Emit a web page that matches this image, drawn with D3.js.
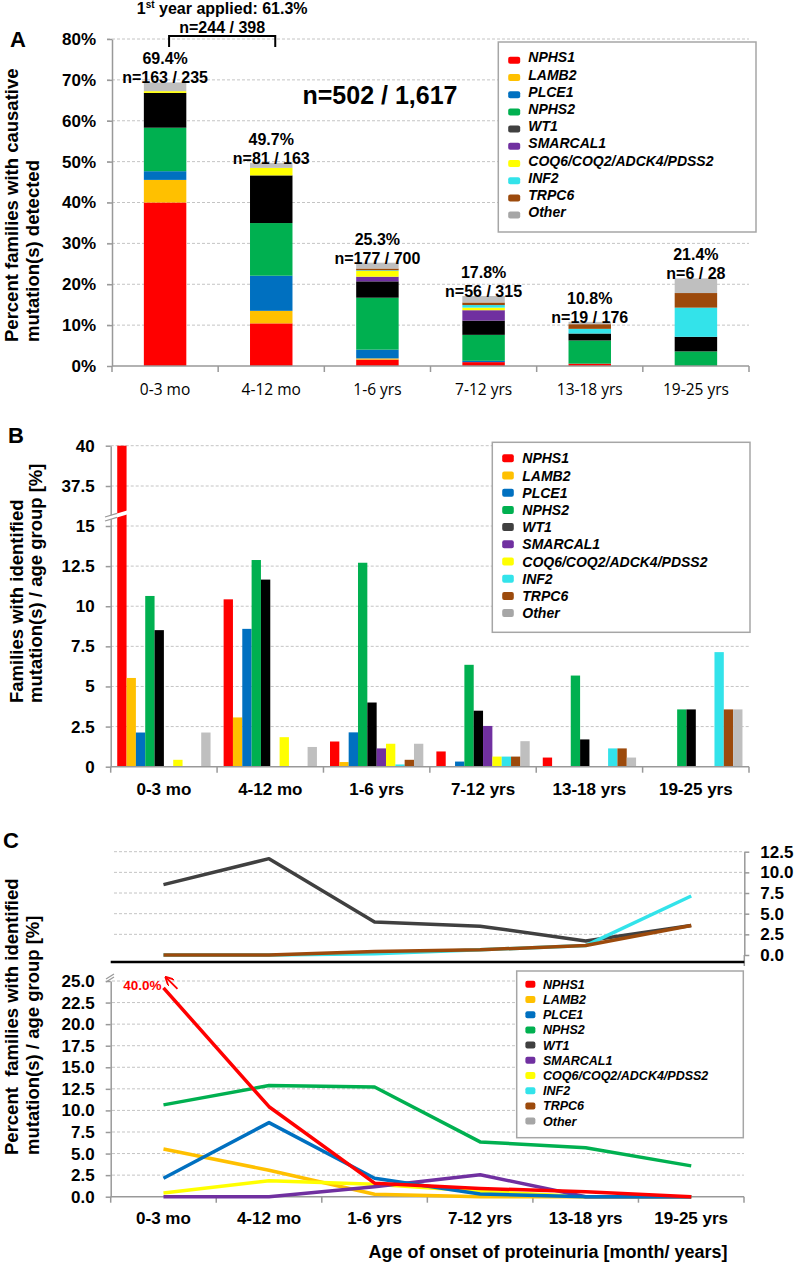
<!DOCTYPE html>
<html>
<head>
<meta charset="utf-8">
<script src="https://cdn.jsdelivr.net/npm/d3@7"></script>
<style>
  body { margin: 0; background: #fff; }
  svg text { font-family: "Liberation Sans", Arial, sans-serif; font-weight: bold; fill: #000; }
</style>
</head>
<body>
<svg id="chart" width="795" height="1262"></svg>
<script>
// age groups (x categories) and genes (series)
var ageGroups = ["0-3 mo", "4-12 mo", "1-6 yrs", "7-12 yrs", "13-18 yrs", "19-25 yrs"];
var genes = ["NPHS1", "LAMB2", "PLCE1", "NPHS2", "WT1", "SMARCAL1", "COQ6/COQ2/ADCK4/PDSS2", "INF2", "TRPC6", "Other"];

// percent of families with mutation in each gene, per age group
var nphs1    = [40.0, 10.43, 1.57, 0.95, 0.57, 0];
var lamb2    = [5.53, 3.07, 0.29, 0, 0, 0];
var plce1    = [2.13, 8.59, 2.14, 0.32, 0, 0];
var nphs2    = [10.64, 12.88, 12.71, 6.35, 5.68, 3.57];
var wt1      = [8.51, 11.66, 4.0, 3.49, 1.70, 3.57];
var smarcal1 = [0, 0, 1.14, 2.54, 0, 0];
var coq      = [0.43, 1.84, 1.43, 0.63, 0, 0];
var inf2     = [0, 0, 0.14, 0.63, 1.14, 7.14];
var trpc6    = [0, 0, 0.43, 0.63, 1.14, 3.57];
var other    = [2.13, 1.23, 1.43, 1.59, 0.57, 3.57];

var totalLabels = ["69.4%", "49.7%", "25.3%", "17.8%", "10.8%", "21.4%"];
var nLabels = ["n=163 / 235", "n=81 / 163", "n=177 / 700", "n=56 / 315", "n=19 / 176", "n=6 / 28"];

var yTicksA = [0, 0.1, 0.2, 0.3, 0.4, 0.5, 0.6, 0.7, 0.8];
var yTicksB = [0, 2.5, 5, 7.5, 10, 12.5, 15, 37.5, 40];
var yTicksCUp = [0, 2.5, 5, 7.5, 10, 12.5];
var yTicksCLow = [0, 2.5, 5, 7.5, 10, 12.5, 15, 17.5, 20, 22.5, 25];

var geneValues = [nphs1, lamb2, plce1, nphs2, wt1, smarcal1, coq, inf2, trpc6, other];

var barColors = ["#ff0000", "#ffc000", "#0070c0", "#00b050", "#000000", "#7030a0", "#ffff00", "#33e3ea", "#9c4a0c", "#bfbfbf"];
var legendColors = ["#ff0000", "#ffc000", "#0070c0", "#00b050", "#404040", "#7030a0", "#ffff00", "#33e3ea", "#9c4a0c", "#a6a6a6"];

var gridColor = "#c4c4c4";
var axisColor = "#999";

var svg = d3.select("#chart");
svg.append("rect").attr("width", 795).attr("height", 1262).attr("fill", "#fff");

function styleAxis(g, size) {
  g.select(".domain").attr("stroke", axisColor).attr("stroke-width", 1.5);
  g.selectAll(".tick line").attr("stroke", axisColor).attr("stroke-width", 1.5);
  g.selectAll(".tick text").attr("font-size", size).attr("font-family", null).attr("fill", "#000");
}

function gridLines(g, ticks, y, x1, x2) {
  g.selectAll(null).data(ticks).join("line")
    .attr("x1", x1).attr("x2", x2)
    .attr("y1", function(d) { return y(d); }).attr("y2", function(d) { return y(d); })
    .attr("stroke", gridColor).attr("stroke-dasharray", "3,2");
}

// bottom axis with ticks between categories
function bandAxis(g, x, y0) {
  var r = x.range();
  g.append("line").attr("x1", r[0]).attr("x2", r[1]).attr("y1", y0).attr("y2", y0)
    .attr("stroke", axisColor).attr("stroke-width", 1.5);
  var bounds = x.domain().map(function(d) { return x(d); }).concat([r[1]]);
  g.selectAll(null).data(bounds).join("line")
    .attr("x1", function(d) { return d; }).attr("x2", function(d) { return d; })
    .attr("y1", y0).attr("y2", y0 + 6)
    .attr("stroke", axisColor).attr("stroke-width", 1.5);
}

function catLabels(g, x, baseline, size, bold, family) {
  g.selectAll(null).data(x.domain()).join("text")
    .attr("x", function(d) { return x(d) + x.bandwidth() / 2; })
    .attr("y", baseline)
    .attr("text-anchor", "middle")
    .attr("font-size", size)
    .style("font-weight", bold ? "bold" : "normal")
    .style("font-family", family || null)
    .text(function(d) { return d; });
}

function yTitle(g, x, y, lines, size, gap) {
  var t = g.append("text").attr("transform", "translate(" + x + "," + y + ") rotate(-90)")
    .attr("font-size", size).style("white-space", "pre");
  lines.forEach(function(l, i) {
    t.append("tspan").attr("x", 0).attr("y", i * gap).text(l);
  });
}

function legend(g, x, y, w, h, rowY, step, sw, sh, swOff, textX, size) {
  g.append("rect").attr("x", x).attr("y", y).attr("width", w).attr("height", h)
    .attr("fill", "#fff").attr("stroke", "#a6a6a6").attr("stroke-width", 1.5);
  var rows = g.selectAll(null).data(genes).join("g")
    .attr("transform", function(d, i) { return "translate(0," + (rowY + i * step) + ")"; });
  rows.append("rect").attr("x", x + (textX - x) * 0.33).attr("y", -sh / 2 + swOff)
    .attr("width", sw).attr("height", sh).attr("rx", 2)
    .attr("fill", function(d, i) { return legendColors[i]; });
  rows.append("text").attr("x", textX).attr("y", size * 0.36)
    .attr("font-size", size).style("font-style", "italic")
    .text(function(d) { return d; });
}

// ---------------- Panel A: stacked bars ----------------
var gA = svg.append("g");
var xA = d3.scaleBand().domain(ageGroups).range([112, 749]);
var yA = d3.scaleLinear().domain([0, 0.8]).range([366, 39]);

gridLines(gA, yTicksA.slice(1), yA, 107, 749);

var table = ageGroups.map(function(g, i) {
  var row = { group: g };
  genes.forEach(function(k, j) { row[k] = geneValues[j][i] / 100; });
  return row;
});
var series = d3.stack().keys(genes)(table);
var barW = xA.bandwidth() * 0.4;

gA.selectAll(".layer").data(series).join("g")
  .attr("fill", function(d, i) { return barColors[i]; })
  .selectAll("rect").data(function(d) { return d; }).join("rect")
  .attr("x", function(d) { return xA(d.data.group) + (xA.bandwidth() - barW) / 2; })
  .attr("y", function(d) { return yA(d[1]); })
  .attr("height", function(d) { return yA(d[0]) - yA(d[1]); })
  .attr("width", barW);

var axA = gA.append("g").attr("transform", "translate(112,0)")
  .call(d3.axisLeft(yA).tickValues(yTicksA).tickFormat(d3.format(".0%")).tickSize(5).tickSizeOuter(0).tickPadding(11));
styleAxis(axA, 17);
bandAxis(gA, xA, 366);
catLabels(gA, xA, 394.5, 15.5, false, "'Open Sans', sans-serif");

table.forEach(function(row, i) {
  var top = yA(d3.sum(genes, function(k) { return row[k]; }));
  var cx = xA(row.group) + xA.bandwidth() / 2;
  gA.append("text").attr("x", cx).attr("y", top - 18).attr("text-anchor", "middle").attr("font-size", 16).text(totalLabels[i]);
  gA.append("text").attr("x", cx).attr("y", top + 1).attr("text-anchor", "middle").attr("font-size", 16).text(nLabels[i]);
});

// bracket for the first year
var bx1 = xA(ageGroups[0]) + xA.bandwidth() / 2 + 4;
var bx2 = xA(ageGroups[1]) + xA.bandwidth() / 2 + 4;
gA.append("path").attr("d", "M" + bx1 + ",47V36H" + bx2 + "V47")
  .attr("fill", "none").attr("stroke", "#000").attr("stroke-width", 2);
var t1 = gA.append("text").attr("x", (bx1 + bx2) / 2).attr("y", 14).attr("text-anchor", "middle").attr("font-size", 16);
t1.append("tspan").text("1");
t1.append("tspan").attr("font-size", 10).attr("dy", -6).text("st");
t1.append("tspan").attr("dy", 6).text(" year applied: 61.3%");
gA.append("text").attr("x", (bx1 + bx2) / 2).attr("y", 32.5).attr("text-anchor", "middle").attr("font-size", 16).text("n=244 / 398");
gA.append("text").attr("x", 380).attr("y", 104).attr("text-anchor", "middle").attr("font-size", 25).text("n=502 / 1,617");

legend(gA, 498.3, 42, 257.7, 190, 57.3, 17.2, 12, 7, 3, 528.3, 14);
yTitle(gA, 18, 342, ["Percent families with causative", "mutation(s) detected"], 18.5, 21);
gA.append("text").attr("x", 10).attr("y", 47).attr("font-size", 22).text("A");

// ---------------- Panel B: grouped bars ----------------
var gB = svg.append("g");
var xB = d3.scaleBand().domain(ageGroups).range([110.7, 749]);
var xBi = d3.scaleBand().domain(genes).range([0, xB.bandwidth()]).paddingOuter(0.7);
var yB = d3.scaleLinear().domain([0, 15, 37.5, 40]).range([766.7, 526, 486, 445.7]);

gridLines(gB, yTicksB.slice(1), yB, 110.7, 749);

var flat = [];
ageGroups.forEach(function(g, i) {
  genes.forEach(function(k, j) {
    if (geneValues[j][i] > 0) flat.push({ group: g, gene: k, value: geneValues[j][i], color: barColors[j] });
  });
});
gB.selectAll(".bar").data(flat).join("rect")
  .attr("x", function(d) { return xB(d.group) + xBi(d.gene); })
  .attr("width", xBi.bandwidth())
  .attr("y", function(d) { return yB(d.value); })
  .attr("height", function(d) { return yB(0) - yB(d.value); })
  .attr("fill", function(d) { return d.color; });

var axB = gB.append("g").attr("transform", "translate(110.7,0)")
  .call(d3.axisLeft(yB).tickValues(yTicksB).tickFormat(d3.format("~g")).tickSize(5).tickSizeOuter(0).tickPadding(11));
styleAxis(axB, 17);
bandAxis(gB, xB, 766.7);
catLabels(gB, xB, 795, 17, true);

// axis break between 15 and 37.5
gB.append("polygon").attr("points", "102,518 132,509 132,513 102,522").attr("fill", "#fff");
gB.append("line").attr("x1", 105).attr("y1", 517).attr("x2", 117).attr("y2", 513.4).attr("stroke", axisColor).attr("stroke-width", 1.2);
gB.append("line").attr("x1", 105).attr("y1", 521).attr("x2", 117).attr("y2", 517.4).attr("stroke", axisColor).attr("stroke-width", 1.2);

legend(gB, 492.3, 442.3, 257.7, 190, 458.3, 17.2, 11.6, 8, 0, 522.3, 14);
yTitle(gB, 22.5, 703, ["Families with identified", "mutation(s) / age group [%]"], 18.5, 19);
gB.append("text").attr("x", 8).attr("y", 443).attr("font-size", 22).text("B");

// ---------------- Panel C: lines ----------------
var gC = svg.append("g");
var xC = d3.scaleBand().domain(ageGroups).range([110.7, 744]);
var yCu = d3.scaleLinear().domain([0, 12.5]).range([955, 851.7]);
var yCl = d3.scaleLinear().domain([0, 25]).range([1196.7, 981]);
var capC = 24.2;

function px(i) { return xC(ageGroups[i]) + xC.bandwidth() / 2; }

// upper part: WT1, INF2, TRPC6 on the right axis
gridLines(gC, yTicksCUp.slice(1), yCu, 114, 744);
var axCu = gC.append("g").attr("transform", "translate(744.3,0)")
  .call(d3.axisRight(yCu).tickValues(yTicksCUp).tickFormat(d3.format(".1f")).tickSize(5).tickSizeOuter(0).tickPadding(11));
styleAxis(axCu, 17);
gC.append("line").attr("x1", 744.3).attr("x2", 744.3).attr("y1", 955).attr("y2", 966).attr("stroke", axisColor).attr("stroke-width", 1.5);
gC.append("line").attr("x1", 110.7).attr("x2", 744.3).attr("y1", 962).attr("y2", 962).attr("stroke", "#000").attr("stroke-width", 2.5);

var upper = [4, 7, 8];
var lineUp = d3.line().x(function(d, i) { return px(i); }).y(function(d) { return yCu(d); });
gC.selectAll(".up").data(upper).join("path")
  .attr("d", function(j) { return lineUp(geneValues[j]); })
  .attr("fill", "none").attr("stroke", function(j) { return legendColors[j]; })
  .attr("stroke-width", 3.5).attr("stroke-linejoin", "round");

// lower part
gridLines(gC, yTicksCLow.slice(1), yCl, 112, 744);
var axCl = gC.append("g").attr("transform", "translate(110.7,0)")
  .call(d3.axisLeft(yCl).tickValues(yTicksCLow).tickFormat(d3.format(".1f")).tickSize(5).tickSizeOuter(0).tickPadding(11));
styleAxis(axCl, 17);
bandAxis(gC, xC, 1196.7);
catLabels(gC, xC, 1224, 17, true);

var lower = [1, 6, 5, 2, 3, 0];
var lineLow = d3.line().x(function(d, i) { return px(i); }).y(function(d) { return yCl(Math.min(d, capC)); });
gC.selectAll(".low").data(lower).join("path")
  .attr("d", function(j) { return lineLow(geneValues[j]); })
  .attr("fill", "none").attr("stroke", function(j) { return legendColors[j]; })
  .attr("stroke-width", 3.5).attr("stroke-linejoin", "round");

// arrow showing the clipped NPHS1 value
svg.append("defs").append("marker").attr("id", "arr").attr("viewBox", "0 0 10 10")
  .attr("refX", 8).attr("refY", 5).attr("markerWidth", 5).attr("markerHeight", 5).attr("orient", "auto")
  .append("path").attr("d", "M0,0L10,5L0,10").attr("fill", "none").attr("stroke", "#ff0000").attr("stroke-width", 2);
var ax0 = px(0), ay0 = yCl(Math.min(nphs1[0], capC));
gC.append("line").attr("x1", ax0 + 14).attr("y1", ay0 + 1).attr("x2", ax0 + 3).attr("y2", ay0 - 10)
  .attr("stroke", "#ff0000").attr("stroke-width", 1.8).attr("marker-end", "url(#arr)");
gC.append("text").attr("x", ax0 - 2).attr("y", ay0 + 2).attr("text-anchor", "end")
  .attr("font-size", 13.5).style("fill", "#ff0000").text(d3.format(".1f")(nphs1[0]) + "%");

// axis break mark at top of lower axis
gC.append("line").attr("x1", 106).attr("y1", 979).attr("x2", 114).attr("y2", 974).attr("stroke", axisColor).attr("stroke-width", 1.2);
gC.append("line").attr("x1", 106).attr("y1", 982).attr("x2", 114).attr("y2", 977).attr("stroke", axisColor).attr("stroke-width", 1.2);

legend(gC, 516.7, 971, 226.6, 166.7, 984.3, 15.2, 10, 7, 0, 543, 12.5);
yTitle(gC, 18, 1155, ["Percent  families with identified", "mutation(s) / age group [%]"], 18.5, 20.5);
gC.append("text").attr("x", 548).attr("y", 1258).attr("text-anchor", "middle").attr("font-size", 18)
  .text("Age of onset of proteinuria [month/ years]");
gC.append("text").attr("x", 3).attr("y", 848).attr("font-size", 22).text("C");
</script>
</body>
</html>
